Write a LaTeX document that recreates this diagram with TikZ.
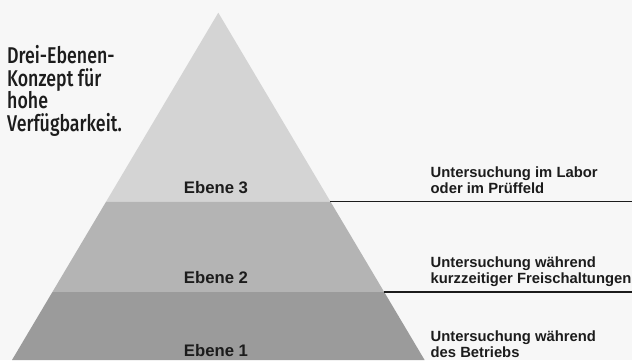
\documentclass[tikz,border=0pt]{standalone}
\usepackage{fontspec}
\setmainfont{Liberation Sans}
\newfontfamily\titlefont[FakeStretch=0.78]{Fira Sans Medium}
\usepackage{tikz}
\usetikzlibrary{positioning}
\usepackage{xcolor}
\definecolor{paper}{HTML}{F7F7F7}
\definecolor{tierthree}{HTML}{D4D4D4}
\definecolor{tiertwo}{HTML}{B4B4B4}
\definecolor{tierone}{HTML}{9B9B9B}
\definecolor{ink}{HTML}{1C1C1C}
\tikzset{levellabel/.style={font=\bfseries\fontsize{16.7}{19}\selectfont,text=ink,inner sep=0pt,anchor=base},notelabel/.style={font=\bfseries\fontsize{14.8}{16}\selectfont,text=ink,inner sep=0pt,anchor=north west,align=left},titlelabel/.style={font=\titlefont\fontsize{22.8}{22.7}\selectfont,text=ink,inner sep=0pt,anchor=north west,align=left},guideline/.style={draw=ink,line width=1.8pt}}

\begin{document}
\begin{tikzpicture}[x=1pt,y=-1pt]
\useasboundingbox[fill=paper] (0,0) rectangle (632,360);
\coordinate (apex) at (218.3,12.7);
\coordinate (l3) at (106.2,201.5);
\coordinate (r3) at (330.4,201.5);
\coordinate (l2) at (52.4,292);
\coordinate (r2) at (384.2,292);
\coordinate (l1) at (12,360);
\coordinate (r1) at (424.6,360);
\coordinate (e3) at (632,201.5);
\coordinate (e2) at (632,292);
\fill[tierthree] (apex)--(r3)--(l3)--cycle;
\fill[tiertwo] (l3)--(r3)--(r2)--(l2)--cycle;
\fill[tierone] (l2)--(r2)--(r1)--(l1)--cycle;
\node[titlelabel] (title) at (7,45) {Drei-Ebenen-\\Konzept f\"ur\\hohe\\Verf\"ugbarkeit.};
\node[levellabel] (lev3) at (216,193) {Ebene 3};
\node[levellabel] (lev2) at (216,283) {Ebene 2};
\node[levellabel] (lev1) at (216,356) {Ebene 1};
\node[notelabel] (note3) at (430.5,166.2) {Untersuchung im Labor\\oder im Pr\"uffeld};
\node[notelabel] (note2) at (430.5,256.2) {Untersuchung w\"ahrend\\kurzzeitiger Freischaltungen};
\node[notelabel] (note1) at (430.5,330.5) {Untersuchung w\"ahrend\\des Betriebs};
\foreach \u/\v in {r3/e3,r2/e2}{\draw[guideline] (\u)--(\v);}
\end{tikzpicture}
\end{document}
